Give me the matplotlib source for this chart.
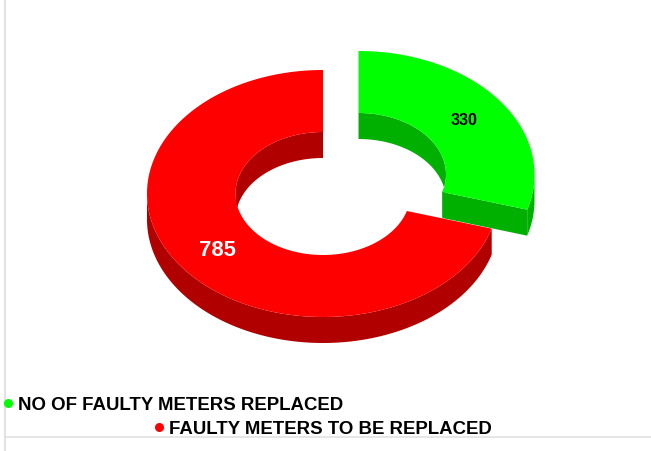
"""3D-looking exploded donut of faulty meter counts."""
import matplotlib
matplotlib.use("Agg")
import matplotlib.pyplot as plt
import numpy as np
from matplotlib.patches import Polygon

plt.rcParams["font.family"] = ["Liberation Sans", "DejaVu Sans"]

labels = ["NO OF FAULTY METERS REPLACED", "FAULTY METERS TO BE REPLACED"]
values = [330, 785]
top_colors = ["#00ff00", "#ff0000"]
side_colors = ["#00b000", "#b00000"]
label_colors = ["black", "white"]

# ring geometry in pixels
CENTER = (323.0, 193.5)
OFFSET = (35.5, -19.0)  # explode offset of the first slice
RX, RY = 176.0, 123.5
IRX, IRY = 87.5, 61.5
DEPTH = 26.0


def arc(cx, cy, rx, ry, a0, a1, dy=0.0):
    # angles in degrees, clockwise from 12 o'clock
    t = np.radians(np.linspace(a0, a1, 200))
    return np.column_stack([cx + rx * np.sin(t), cy - ry * np.cos(t) + dy])


def add(ax, pts, color):
    ax.add_patch(Polygon(pts, closed=True, facecolor=color, edgecolor="none"))


def draw_slice(ax, cx, cy, a0, a1, top, side, end_face):
    # inner wall, only the far side of the hole shows
    w0 = a0 if a1 <= 180 else max(a0, 270)
    inner = arc(cx, cy, IRX, IRY, w0, a1)
    add(ax, np.vstack([inner, arc(cx, cy, IRX, IRY, w0, a1, DEPTH)[::-1]]), side)
    # outer wall, the near half
    o0, o1 = max(a0, 90), min(a1, 270)
    if o1 > o0:
        outer = arc(cx, cy, RX, RY, o0, o1)
        add(ax, np.vstack([outer, arc(cx, cy, RX, RY, o0, o1, DEPTH)[::-1]]), side)
    if end_face:
        p_in = arc(cx, cy, IRX, IRY, a1, a1)[0]
        p_out = arc(cx, cy, RX, RY, a1, a1)[0]
        add(ax, [p_in, p_out, p_out + (0, DEPTH), p_in + (0, DEPTH)], side)
    # top surface
    add(ax, np.vstack([arc(cx, cy, RX, RY, a0, a1),
                       arc(cx, cy, IRX, IRY, a0, a1)[::-1]]), top)


fig = plt.figure(figsize=(6.51, 4.51), dpi=100)
ax = fig.add_axes([0, 0, 1, 1])
ax.set_xlim(0, 651)
ax.set_ylim(451, 0)
ax.axis("off")

# page frame lines
ax.plot([4.5, 4.5], [0, 451], color="#e2e2e2", lw=1.5)
ax.plot([4.5, 651], [436.5, 436.5], color="#e2e2e2", lw=1.2)

split = values[0] / sum(values) * 360
draw_slice(ax, CENTER[0] + OFFSET[0], CENTER[1] + OFFSET[1], 0, split,
           top_colors[0], side_colors[0], True)
draw_slice(ax, CENTER[0], CENTER[1], split, 360,
           top_colors[1], side_colors[1], False)

ax.text(464.5, 125, str(values[0]), color=label_colors[0], fontsize=11.5,
        fontweight="bold", ha="center", va="baseline")
ax.text(217.5, 256.5, str(values[1]), color=label_colors[1], fontsize=15.8,
        fontweight="bold", ha="center", va="baseline")

# legend, wrapped the way the source laid it out
ax.plot([8], [403], "o", color=top_colors[0], ms=6.5, mec="none")
ax.text(18, 410, labels[0], fontsize=13.4, fontweight="bold", va="baseline", color="black")
ax.plot([158.5], [427], "o", color=top_colors[1], ms=6.5, mec="none")
ax.text(169, 433.5, labels[1], fontsize=13.4, fontweight="bold", va="baseline", color="black")

fig.savefig("out.png", dpi=100)
plt.close(fig)
